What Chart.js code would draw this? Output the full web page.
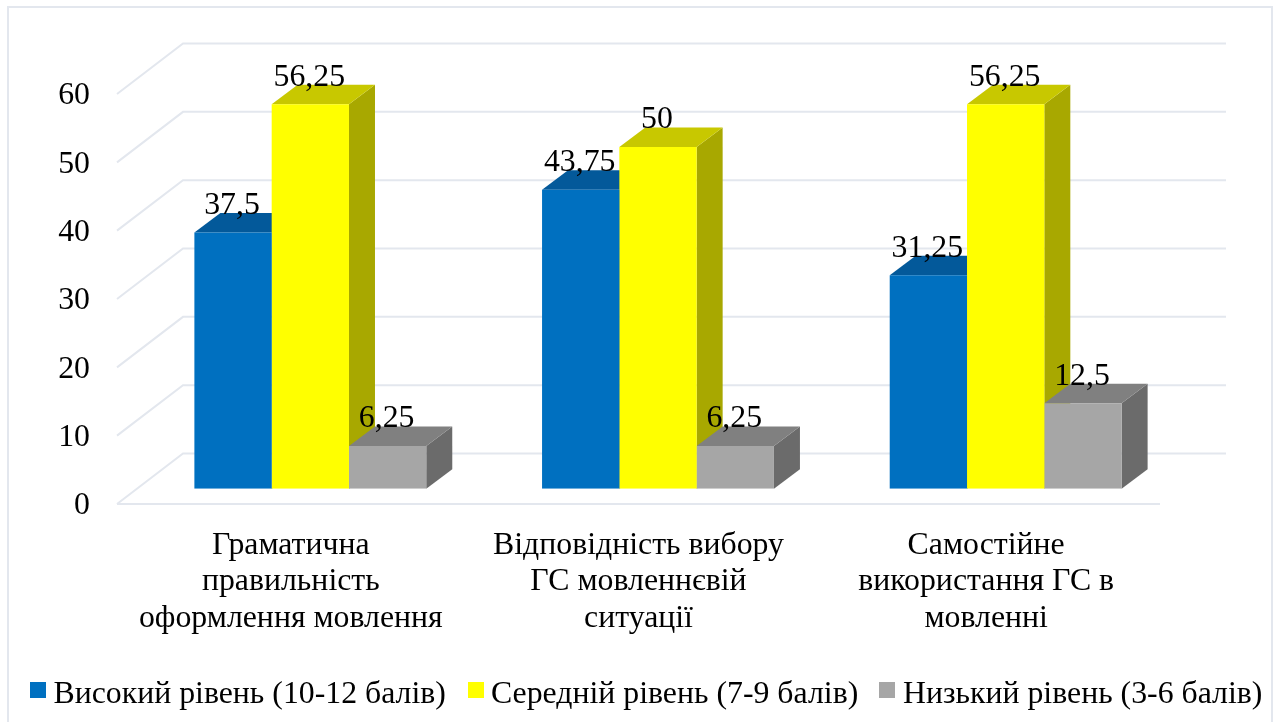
<!DOCTYPE html>
<html lang="uk">
<head>
<meta charset="utf-8">
<title>Рівні сформованості</title>
<script src="https://cdn.jsdelivr.net/npm/chart.js@4"></script>
<style>
    html, body { margin: 0; padding: 0; background: #fff; overflow: hidden; }
    canvas { display: block; }
</style>
</head>
<body>
<canvas id="levelsChart" width="1277" height="722"></canvas>
<script>
// Data
const categories = [
    ['Граматична', 'правильність', 'оформлення мовлення'],
    ['Відповідність вибору', 'ГС мовленнєвій', 'ситуації'],
    ['Самостійне', 'використання ГС в', 'мовленні']
];
const seriesNames = ['Високий рівень (10-12 балів)', 'Середній рівень (7-9 балів)', 'Низький рівень (3-6 балів)'];
const highLevel = [37.5, 43.75, 31.25];
const midLevel = [56.25, 50, 56.25];
const lowLevel = [6.25, 6.25, 12.5];

// Colours: front, top, side
const FRONT = ['#0070c0', '#ffff00', '#a6a6a6'];
const TOP = ['#03599a', '#c8c800', '#808080'];
const SIDE = ['#00508c', '#a8a800', '#6b6b6b'];

const FONT = '"Liberation Serif", "Times New Roman", serif';
const FONT_SIZE = 31.8;
const GRID = '#e3e7ee';

// 3D look
const WALL_DX = 66, WALL_DY = 50.5;    // floor depth
const BAR_SHIFT_X = 19.5, BAR_SHIFT_Y = 15.3;  // bars stand inside the floor
const BAR_DX = 26, BAR_DY = 19.5;      // bar depth

const LEGEND_BOX_X = [30, 468, 879];
const LEGEND_TEXT_X = [53.5, 491, 903];
const LEGEND_Y = 695;

function poly(ctx, color, pts) {
    ctx.fillStyle = color;
    ctx.beginPath();
    pts.forEach((p, i) => i ? ctx.lineTo(p[0], p[1]) : ctx.moveTo(p[0], p[1]));
    ctx.closePath();
    ctx.fill();
}

const frame3d = {
    id: 'frame3d',
    beforeDraw(chart) {
        const ctx = chart.ctx;
        const y = chart.scales.y;
        const area = chart.chartArea;

        // outer frame, runs off the bottom of the picture
        ctx.save();
        ctx.strokeStyle = GRID;
        ctx.lineWidth = 2;
        ctx.beginPath();
        ctx.moveTo(8, 722);
        ctx.lineTo(8, 7);
        ctx.lineTo(1272, 7);
        ctx.lineTo(1272, 722);
        ctx.stroke();

        // wall and floor lines
        y.ticks.forEach(t => {
            const py = y.getPixelForValue(t.value);
            ctx.beginPath();
            ctx.moveTo(area.left, py);
            ctx.lineTo(area.left + WALL_DX, py - WALL_DY);
            ctx.lineTo(area.right + WALL_DX, py - WALL_DY);
            ctx.stroke();
        });
        const y0 = y.getPixelForValue(0);
        ctx.beginPath();
        ctx.moveTo(area.left, y0);
        ctx.lineTo(area.right, y0);
        ctx.stroke();
        ctx.restore();
    },
    beforeDatasetsDraw(chart) {
        const ctx = chart.ctx;
        ctx.save();
        ctx.translate(BAR_SHIFT_X, -BAR_SHIFT_Y);
        chart.data.datasets.forEach((ds, i) => {
            chart.getDatasetMeta(i).data.forEach(bar => {
                const l = bar.x - bar.width / 2, r = bar.x + bar.width / 2;
                const t = bar.y, b = bar.base;
                poly(ctx, SIDE[i], [[r, t], [r + BAR_DX, t - BAR_DY], [r + BAR_DX, b - BAR_DY], [r, b]]);
                poly(ctx, TOP[i], [[l, t], [l + BAR_DX, t - BAR_DY], [r + BAR_DX, t - BAR_DY], [r, t]]);
            });
        });
    },
    afterDatasetsDraw(chart) {
        const ctx = chart.ctx;
        ctx.restore();

        // value labels
        ctx.save();
        ctx.font = FONT_SIZE + 'px ' + FONT;
        ctx.fillStyle = '#000';
        ctx.textAlign = 'center';
        ctx.textBaseline = 'middle';
        chart.data.datasets.forEach((ds, i) => {
            chart.getDatasetMeta(i).data.forEach((bar, j) => {
                const text = String(ds.data[j]).replace('.', ',');
                ctx.fillText(text, bar.x + BAR_SHIFT_X - 1, bar.y - BAR_SHIFT_Y - 27);
            });
        });

        // legend
        ctx.textAlign = 'left';
        chart.data.datasets.forEach((ds, i) => {
            ctx.fillStyle = FRONT[i];
            ctx.fillRect(LEGEND_BOX_X[i], 682, 16, 16);
            ctx.fillStyle = '#000';
            ctx.fillText(ds.label, LEGEND_TEXT_X[i], LEGEND_Y);
        });
        ctx.restore();
    }
};

new Chart(document.getElementById('levelsChart').getContext('2d'), {
    type: 'bar',
    data: {
        labels: categories,
        datasets: [
            { label: seriesNames[0], data: highLevel, backgroundColor: FRONT[0] },
            { label: seriesNames[1], data: midLevel, backgroundColor: FRONT[1] },
            { label: seriesNames[2], data: lowLevel, backgroundColor: FRONT[2] }
        ]
    },
    options: {
        responsive: false,
        animation: false,
        categoryPercentage: 0.667,
        barPercentage: 1,
        layout: { padding: { top: 94, right: 117, left: 0, bottom: 0 } },
        plugins: {
            legend: { display: false },
            title: { display: false },
            tooltip: { enabled: false }
        },
        scales: {
            x: {
                grid: { display: false },
                border: { display: false },
                ticks: {
                    color: '#000',
                    font: { family: FONT, size: FONT_SIZE, lineHeight: '36.7px' },
                    padding: 15,
                    maxRotation: 0,
                    autoSkip: false
                },
                afterFit(scale) { scale.height = 218; }
            },
            y: {
                min: 0,
                max: 60,
                grid: { display: false },
                border: { display: false },
                ticks: {
                    stepSize: 10,
                    color: '#000',
                    font: { family: FONT, size: FONT_SIZE },
                    padding: 19,
                    labelOffset: 2
                },
                afterFit(scale) { scale.width = 117; }
            }
        }
    },
    plugins: [frame3d]
});
</script>
</body>
</html>
